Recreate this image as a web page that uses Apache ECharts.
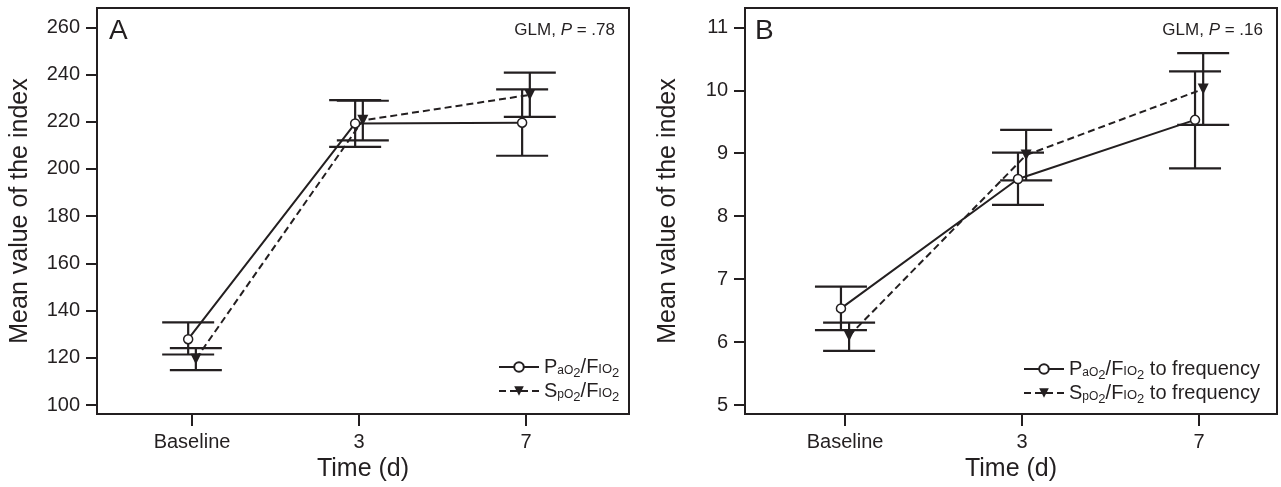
<!DOCTYPE html>
<html>
<head>
<meta charset="utf-8">
<script src="https://cdn.jsdelivr.net/npm/echarts@6/dist/echarts.min.js"></script>
<style>
  html, body { margin: 0; padding: 0; background: #fff; }
  #chart { width: 1281px; height: 487px; }
</style>
</head>
<body>
<div id="chart"></div>
<script>
// time points
const categories = ["Baseline", "3", "7"];

// panel A: index values
const paoMeanA = [127.9, 219.3, 219.6];
const paoLowA = [121.4, 209.4, 205.6];
const paoHighA = [135.0, 229.2, 233.7];
const spoMeanA = [119.5, 220.6, 231.4];
const spoLowA = [114.8, 212.1, 222.1];
const spoHighA = [124.1, 228.9, 240.8];

// panel B: index to frequency
const paoMeanB = [6.535, 8.59, 9.53];
const paoLowB = [6.19, 8.18, 8.76];
const paoHighB = [6.88, 9.01, 10.30];
const spoMeanB = [6.10, 8.97, 10.02];
const spoLowB = [5.86, 8.57, 9.45];
const spoHighB = [6.31, 9.37, 10.59];

// tick labels
const yTicksA = [100, 120, 140, 160, 180, 200, 220, 240, 260];
const yTicksB = [5, 6, 7, 8, 9, 10, 11];
const xTicks = [0, 1, 2];

const ink = "#231f20";
const font = "'Liberation Sans', Arial, Helvetica, sans-serif";
const shift = 0.023; // groups are drawn a little apart

const chart = echarts.init(document.getElementById("chart"));

const points = (vals, off) => vals.map((v, i) => [i + off, v]);
const bars = (lo, hi, off) => lo.map((v, i) => [i + off, v, hi[i]]);

function errorBar(params, api) {
  const x = api.value(0);
  const lo = api.coord([x, api.value(1)]);
  const hi = api.coord([x, api.value(2)]);
  const w = 26;
  const style = { stroke: ink, lineWidth: 2.2 };
  return {
    type: "group",
    children: [
      { type: "line", shape: { x1: lo[0], y1: lo[1], x2: hi[0], y2: hi[1] }, style },
      { type: "line", shape: { x1: lo[0] - w, y1: lo[1], x2: lo[0] + w, y2: lo[1] }, style },
      { type: "line", shape: { x1: hi[0] - w, y1: hi[1], x2: hi[0] + w, y2: hi[1] }, style },
    ],
  };
}

function legendLabel(name) {
  const gas = name[0] === "P" ? "aO" : "pO";
  let s = `{n|${name[0]}}{s|${gas}}{t|2}{n|/F}{c|IO}{t|2}`;
  if (name.indexOf("frequency") >= 0) s += "{n| to frequency}";
  return s;
}

// subscripts pushed down with top padding
const legendRich = {
  n: { fontSize: 20, lineHeight: 22, color: ink, fontFamily: font },
  s: { fontSize: 12, lineHeight: 10, verticalAlign: "top", padding: [9, 0, 0, 0], color: ink, fontFamily: font },
  c: { fontSize: 13, lineHeight: 10, verticalAlign: "top", padding: [7, 0, 0, 0], color: ink, fontFamily: font },
  t: { fontSize: 13, lineHeight: 10, verticalAlign: "top", padding: [11, 0, 0, 0], color: ink, fontFamily: font },
};

const plain = { color: ink, fontFamily: font, fontWeight: "normal" };

function xAxis(gridIndex, min, max) {
  return {
    type: "value",
    gridIndex,
    min,
    max,
    axisLine: { show: false, onZero: false },
    splitLine: { show: false },
    axisTick: { customValues: xTicks, length: 12, lineStyle: { color: ink, width: 2 } },
    axisLabel: {
      customValues: xTicks,
      formatter: (v) => categories[v],
      margin: 18,
      fontSize: 20,
      ...plain,
    },
    name: "Time (d)",
    nameLocation: "middle",
    nameGap: 43,
    nameTextStyle: { fontSize: 25, ...plain },
  };
}

function yAxis(gridIndex, min, max, ticks) {
  return {
    type: "value",
    gridIndex,
    min,
    max,
    axisLine: { show: false, onZero: false },
    splitLine: { show: false },
    axisTick: { customValues: ticks, length: 11, lineStyle: { color: ink, width: 2 } },
    axisLabel: { customValues: ticks, margin: 17, fontSize: 20, ...plain },
    name: "Mean value of the index",
    nameLocation: "middle",
    nameGap: 64,
    nameTextStyle: { fontSize: 25, ...plain },
  };
}

function meanLine(name, vals, off, dashed, gi) {
  return {
    name,
    type: "line",
    xAxisIndex: gi,
    yAxisIndex: gi,
    data: points(vals, off),
    z: 3,
    symbol: dashed ? "triangle" : "circle",
    symbolRotate: dashed ? 180 : 0,
    symbolSize: dashed ? [11, 11] : 9,
    lineStyle: { color: ink, width: 2, type: dashed ? [7, 4] : "solid" },
    itemStyle: dashed
      ? { color: ink, borderWidth: 0 }
      : { color: "#fff", borderColor: ink, borderWidth: 1.5 },
  };
}

function errSeries(lo, hi, off, gi) {
  return {
    type: "custom",
    xAxisIndex: gi,
    yAxisIndex: gi,
    z: 2,
    renderItem: errorBar,
    data: bars(lo, hi, off),
  };
}

function glm(text, right) {
  return {
    text,
    right,
    top: 17,
    textStyle: {
      rich: {
        n: { fontSize: 17, ...plain },
        i: { fontSize: 17, fontStyle: "italic", ...plain },
      },
    },
  };
}

const nameA = ["PaO2/FIO2", "SpO2/FIO2"];
const nameB = ["PaO2/FIO2 to frequency", "SpO2/FIO2 to frequency"];

chart.setOption({
  animation: false,
  backgroundColor: "#fff",
  title: [
    { text: "A", left: 104, top: 12, textStyle: { fontSize: 28, ...plain } },
    { text: "B", left: 750, top: 12, textStyle: { fontSize: 28, ...plain } },
    glm("{n|GLM, }{i|P}{n| = .78}", 661),
    glm("{n|GLM, }{i|P}{n| = .16}", 13),
  ],
  legend: [
    {
      data: nameA,
      orient: "vertical",
      left: 493,
      top: 351,
      itemWidth: 40,
      itemHeight: 12,
      itemGap: 0,
      formatter: legendLabel,
      textStyle: { rich: legendRich },
    },
    {
      data: nameB,
      orient: "vertical",
      left: 1018,
      top: 353,
      itemWidth: 40,
      itemHeight: 12,
      itemGap: 0,
      formatter: legendLabel,
      textStyle: { rich: legendRich },
    },
  ],
  grid: [
    { left: 97, right: 652, top: 8, bottom: 73, show: true, borderColor: ink, borderWidth: 2 },
    { left: 745, right: 4, top: 8, bottom: 73, show: true, borderColor: ink, borderWidth: 2 },
  ],
  xAxis: [xAxis(0, -0.569, 2.617), xAxis(1, -0.565, 2.44)],
  yAxis: [yAxis(0, 96.2, 268.2, yTicksA), yAxis(1, 4.857, 11.307, yTicksB)],
  series: [
    errSeries(paoLowA, paoHighA, -shift, 0),
    errSeries(spoLowA, spoHighA, shift, 0),
    meanLine(nameA[0], paoMeanA, -shift, false, 0),
    meanLine(nameA[1], spoMeanA, shift, true, 0),
    errSeries(paoLowB, paoHighB, -shift, 1),
    errSeries(spoLowB, spoHighB, shift, 1),
    meanLine(nameB[0], paoMeanB, -shift, false, 1),
    meanLine(nameB[1], spoMeanB, shift, true, 1),
  ],
});
</script>
</body>
</html>
